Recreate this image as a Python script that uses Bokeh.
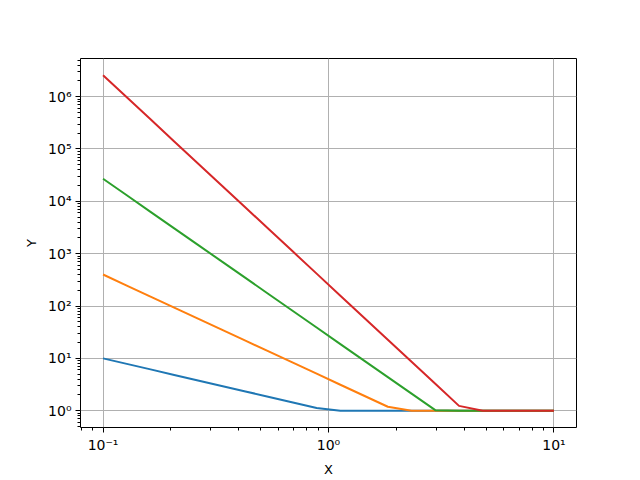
from bokeh.plotting import figure
from bokeh.models import Range1d, FixedTicker, CustomJSTickFormatter
from bokeh.embed import file_html
from bokeh.resources import INLINE

# sample positions (log-spaced between 0.1 and 10)
x = [0.1, 0.127427, 0.162378, 0.206914, 0.263665, 0.335982, 0.428133,
     0.545559, 0.695193, 0.885867, 1.128838, 1.438450, 1.832981, 2.335721,
     2.976351, 3.792690, 4.832930, 6.158482, 7.847600, 10.0]

y_blue = [10.0, 7.8476, 6.15848, 4.83293, 3.79269, 2.97635, 2.33572, 1.83298,
          1.43845, 1.12884, 1, 1, 1, 1, 1, 1, 1, 1, 1, 1]
y_orange = [400.0, 246.34, 151.71, 93.43, 57.54, 35.43, 21.82, 13.44, 8.277,
            5.097, 3.139, 1.933, 1.1905, 1, 1, 1, 1, 1, 1, 1]
y_green = [27000.0, 13048.8, 6306.5, 3047.9, 1473.0, 711.9, 344.1, 166.3,
           80.36, 38.84, 18.77, 9.071, 4.384, 2.119, 1.024, 1, 1, 1, 1, 1]
y_red = [2560000.0, 970930.0, 368243.0, 139661.0, 52970.0, 20090.0, 7619.6,
         2889.8, 1096.0, 415.7, 157.66, 59.79, 22.68, 8.601, 3.262, 1.2372,
         1, 1, 1, 1]

series = [y_blue, y_orange, y_green, y_red]
colors = ["#1f77b4", "#ff7f0e", "#2ca02c", "#d62728"]

x_major = [0.1, 1, 10]
y_major = [1, 10, 100, 1e3, 1e4, 1e5, 1e6]

p = figure(x_axis_type="log", y_axis_type="log",
           frame_width=496, frame_height=369,
           min_border_left=80, min_border_right=48,
           min_border_top=58, min_border_bottom=44,
           output_backend="svg", toolbar_location=None,
           x_range=Range1d(10 ** -1.1, 10 ** 1.1),
           y_range=Range1d(10 ** -0.3204, 10 ** 6.7286))

for ys, c in zip(series, colors):
    p.line(x, ys, line_color=c, line_width=2)

x_minor = [m * d for d in [0.01, 0.1, 1, 10] for m in range(2, 10)]
y_minor = [m * d for d in [0.1, 1, 10, 100, 1e3, 1e4, 1e5, 1e6] for m in range(2, 10)]
p.xaxis.ticker = FixedTicker(ticks=x_major, minor_ticks=x_minor)
p.yaxis.ticker = FixedTicker(ticks=y_major, minor_ticks=y_minor)

fmt = CustomJSTickFormatter(code="""
const sup = {'-':'\u207b','0':'\u2070','1':'\u00b9','2':'\u00b2','3':'\u00b3','4':'\u2074','5':'\u2075','6':'\u2076','7':'\u2077','8':'\u2078','9':'\u2079'};
const e = String(Math.round(Math.log10(tick)));
let s = '10';
for (const ch of e) { s += sup[ch]; }
return s;
""")
p.xaxis.formatter = fmt
p.yaxis.formatter = fmt

p.xaxis.axis_label = "X"
p.yaxis.axis_label = "Y"

for ax in [p.xaxis, p.yaxis]:
    ax.axis_label_text_font = "DejaVu Sans"
    ax.axis_label_text_font_size = "13px"
    ax.axis_label_text_font_style = "normal"
    ax.axis_label_text_color = "black"
    ax.major_label_text_font = "DejaVu Sans"
    ax.major_label_text_font_size = "14px"
    ax.major_label_text_color = "black"
    ax.major_tick_in = 0
    ax.major_tick_out = 5
    ax.minor_tick_in = 0
    ax.minor_tick_out = 3
    ax.major_tick_line_color = "black"
    ax.minor_tick_line_color = "black"
    ax.axis_line_color = None
    ax.major_label_standoff = 4
    ax.axis_label_standoff = 6

p.xgrid.grid_line_color = "#b0b0b0"
p.ygrid.grid_line_color = "#b0b0b0"
p.xgrid.grid_line_width = 1
p.ygrid.grid_line_width = 1
p.outline_line_color = "black"
p.outline_line_width = 1
p.background_fill_color = "white"
p.border_fill_color = "white"

open("out.html", "w").write(file_html(p, INLINE))
